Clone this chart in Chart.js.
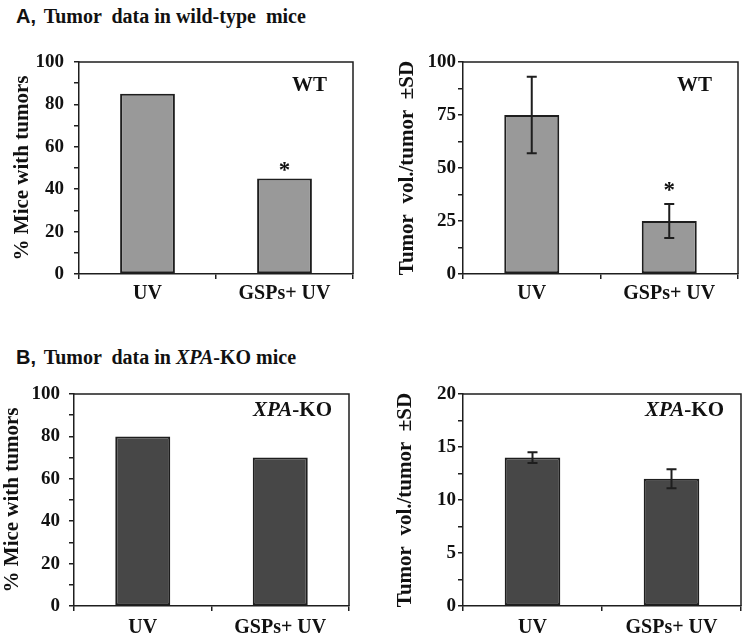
<!DOCTYPE html>
<html><head><meta charset="utf-8">
<script src="https://cdn.jsdelivr.net/npm/chart.js@4.4.1/dist/chart.umd.min.js"></script>
<style>
body{margin:0;width:745px;height:638px;background:#fff;position:relative;overflow:hidden}
.t{position:absolute;left:16px;font:bold 20px "Liberation Serif";white-space:pre;line-height:20px;color:#111}
.t b{font-family:"Liberation Sans";font-size:20px;margin-right:3px}
canvas{position:absolute}
</style></head><body>
<div class="t" style="top:6px"><b>A,</b> Tumor  data in wild-type  mice</div>
<div class="t" style="top:347px"><b>B,</b> Tumor  data in <i>XPA</i>-KO mice</div>
<canvas id="c1" width="370" height="290" style="left:0;top:40px"></canvas>
<canvas id="c2" width="375" height="290" style="left:370px;top:40px"></canvas>
<canvas id="c3" width="370" height="266" style="left:0;top:372px"></canvas>
<canvas id="c4" width="375" height="266" style="left:370px;top:372px"></canvas>
<script>
// ---- data ----
const categories = ['UV', 'GSPs+ UV'];
const wtIncidence = [85, 45];
const wtVolume = [75, 25];
const wtVolumeSD = [18, 8];
const koIncidence = [80, 70];
const koVolume = [14, 12];
const koVolumeSD = [0.5, 0.9];
const incidenceTickLabels = [0, 20, 40, 60, 80, 100];
const wtVolumeTickLabels = [0, 25, 50, 75, 100];
const koVolumeTickLabels = [0, 5, 10, 15, 20];
const wtSignificant = [false, true];
const koSignificant = [false, false];

const SERIF = 'Liberation Serif';
const INK = '#111';
const LINE = '#1e1e1e';

const frame = {
  id: 'frame',
  afterDraw(chart) {
    const {ctx, chartArea: a} = chart;
    ctx.save();
    ctx.strokeStyle = LINE; ctx.lineWidth = 1.5;
    ctx.beginPath();
    ctx.moveTo(a.left, a.top); ctx.lineTo(a.right, a.top); ctx.lineTo(a.right, a.bottom);
    ctx.stroke();
    ctx.restore();
  }
};

const extras = {
  id: 'extras',
  afterDatasetsDraw(chart, args, o) {
    const {ctx, chartArea: a, scales: {y}} = chart;
    const meta = chart.getDatasetMeta(0);
    const vals = chart.data.datasets[0].data;
    ctx.save();
    // error bars
    if (o.sd) {
      ctx.strokeStyle = LINE; ctx.lineWidth = 2;
      meta.data.forEach((el, i) => {
        const yt = y.getPixelForValue(vals[i] + o.sd[i]);
        const yb = y.getPixelForValue(vals[i] - o.sd[i]);
        ctx.beginPath();
        ctx.moveTo(el.x, yt); ctx.lineTo(el.x, yb);
        ctx.moveTo(el.x - 5, yt); ctx.lineTo(el.x + 5, yt);
        ctx.moveTo(el.x - 5, yb); ctx.lineTo(el.x + 5, yb);
        ctx.stroke();
      });
    }
    // significance stars
    ctx.fillStyle = INK;
    ctx.font = 'bold 23px "' + SERIF + '"';
    ctx.textAlign = 'center'; ctx.textBaseline = 'alphabetic';
    meta.data.forEach((el, i) => {
      if (!o.sig[i]) return;
      const top = y.getPixelForValue(vals[i] + (o.sd ? o.sd[i] : 0));
      ctx.fillText('*', el.x, top + o.starGap);
    });
    // group tag
    ctx.textAlign = 'left';
    let w = 0;
    o.tag.forEach(p => {
      ctx.font = (p.italic ? 'italic ' : '') + 'bold 21px "' + SERIF + '"';
      w += ctx.measureText(p.text).width;
    });
    let x = a.right - o.tagRight - w;
    o.tag.forEach(p => {
      ctx.font = (p.italic ? 'italic ' : '') + 'bold 21px "' + SERIF + '"';
      ctx.fillText(p.text, x, a.top + o.tagDown);
      x += ctx.measureText(p.text).width;
    });
    ctx.restore();
  }
};

function makeChart(id, c) {
  return new Chart(document.getElementById(id), {
    type: 'bar',
    data: {
      labels: categories,
      datasets: [{
        data: c.values,
        backgroundColor: c.fill,
        borderColor: LINE,
        borderWidth: 2,
        borderSkipped: false,
        barPercentage: 0.4,
        categoryPercentage: 1
      }]
    },
    options: {
      responsive: false,
      animation: false,
      devicePixelRatio: 1,
      layout: {padding: {left: 0, top: 22, right: c.padRight, bottom: 0}},
      plugins: {
        legend: {display: false},
        tooltip: {enabled: false},
        extras: {sd: c.sd, sig: c.sig, starGap: c.starGap, tag: c.tag, tagRight: c.tagRight, tagDown: c.tagDown}
      },
      scales: {
        x: {
          afterFit(s) { s.height = c.xHeight; },
          ticks: {font: {family: SERIF, weight: 'bold', size: 20}, color: INK, padding: c.xPad, maxRotation: 0, autoSkip: false},
          grid: {offset: true, drawOnChartArea: false, tickLength: 5, color: LINE, lineWidth: 1.5},
          border: {color: LINE, width: 1.5}
        },
        y: {
          min: 0, max: c.max,
          afterFit(s) { s.width = c.yWidth; },
          ticks: {
            stepSize: c.minorStep, autoSkip: false,
            callback: v => c.labels.includes(v) ? String(v) : '',
            font: {family: SERIF, weight: 'bold', size: 19}, color: INK, padding: c.tickPad
          },
          grid: {drawOnChartArea: false, tickLength: 5, color: LINE, lineWidth: 1.5},
          border: {color: LINE, width: 1.5},
          title: {display: true, text: c.yTitle, color: INK,
            font: {family: SERIF, weight: 'bold', size: 21, lineHeight: 1},
            padding: {top: c.titlePad, bottom: 0}}
        }
      }
    },
    plugins: [frame, extras]
  });
}

makeChart('c1', {values: wtIncidence, fill: '#999999', max: 100, minorStep: 10, labels: incidenceTickLabels,
  yTitle: '% Mice with tumors', yWidth: 79, titlePad: 12, tickPad: 10, padRight: 17, xHeight: 56, xPad: 3,
  sig: wtSignificant, starGap: -2, tag: [{text: 'WT'}], tagRight: 26, tagDown: 29});
makeChart('c2', {values: wtVolume, sd: wtVolumeSD, fill: '#999999', max: 100, minorStep: 12.5, labels: wtVolumeTickLabels,
  yTitle: 'Tumor  vol./tumor  \u00b1SD', yWidth: 93, titlePad: 27, tickPad: 2, padRight: 7, xHeight: 56, xPad: 3,
  sig: wtSignificant, starGap: -7, tag: [{text: 'WT'}], tagRight: 26, tagDown: 29});
makeChart('c3', {values: koIncidence, fill: '#474747', max: 100, minorStep: 10, labels: incidenceTickLabels,
  yTitle: '% Mice with tumors', yWidth: 74, titlePad: 2, tickPad: 9, padRight: 21, xHeight: 32, xPad: 5,
  sig: koSignificant, starGap: -2, tag: [{text: 'XPA', italic: true}, {text: '-KO'}], tagRight: 17, tagDown: 22});
makeChart('c4', {values: koVolume, sd: koVolumeSD, fill: '#474747', max: 20, minorStep: 2.5, labels: koVolumeTickLabels,
  yTitle: 'Tumor  vol./tumor  \u00b1SD', yWidth: 93, titlePad: 25, tickPad: 2, padRight: 4, xHeight: 32, xPad: 5,
  sig: koSignificant, starGap: -2, tag: [{text: 'XPA', italic: true}, {text: '-KO'}], tagRight: 17, tagDown: 22});
</script>
</body></html>
